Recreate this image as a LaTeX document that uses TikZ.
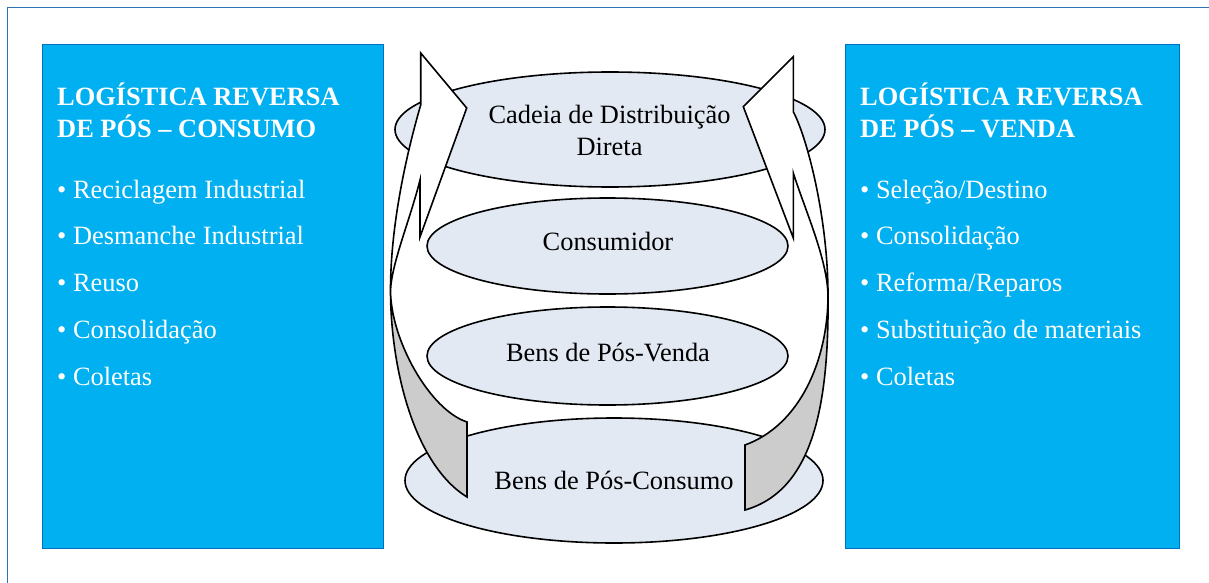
\documentclass[tikz,border=0pt]{standalone}
\usepackage{fontspec}
\setmainfont{Liberation Serif}
\usetikzlibrary{shapes.geometric}
\definecolor{boxblue}{HTML}{00B0F0}
\definecolor{boxedge}{HTML}{0070C0}
\definecolor{framecol}{HTML}{2E74B5}
\definecolor{ovalfill}{HTML}{E2E9F3}
\definecolor{backgray}{HTML}{CCCCCC}
\begin{document}
\begin{tikzpicture}[x=1pt,y=-1pt,
  sidebox/.style={fill=boxblue, draw=boxedge, line width=0.8pt, inner sep=0pt, anchor=north west},
  oval/.style={ellipse, draw=black, line width=1.6pt, fill=ovalfill, inner sep=0pt},
  txt/.style={font=\fontsize{26.4}{31}\selectfont, inner sep=0pt, anchor=base},
  wtxt/.style={font=\fontsize{26.4}{31}\selectfont, text=white, inner sep=0pt, anchor=base west},
  ttl/.style={font=\fontsize{26.4}{31}\selectfont\bfseries, text=white, inner sep=0pt, anchor=base west},
  band/.style={draw=black, line width=1.6pt, line join=miter},
  frontface/.style={band, fill=white},
  backface/.style={band, fill=backgray}]
\useasboundingbox (0,0) rectangle (1209,583);
\fill[white] (0,0) rectangle (1209,583);
\draw[framecol, line width=1.1pt] (7.3,583) -- (7.3,7.3) -- (1209,7.3);

% side boxes
\node[sidebox, minimum width=341pt, minimum height=504pt] (lbox) at (41.5,44) {};
\node[sidebox, minimum width=334pt, minimum height=504pt] (rbox) at (844.5,44) {};

\node[ttl] (lt1) at (57,106) {LOGÍSTICA REVERSA};
\node[ttl] (lt2) at (57,137) {DE PÓS – CONSUMO};
\node[wtxt] (l1) at (57,198) {• Reciclagem Industrial};
\node[wtxt] (l2) at (57,244.8) {• Desmanche Industrial};
\node[wtxt] (l3) at (57,291.6) {• Reuso};
\node[wtxt] (l4) at (57,338.4) {• Consolidação};
\node[wtxt] (l5) at (57,385.2) {• Coletas};

\node[ttl] (rt1) at (860,106) {LOGÍSTICA REVERSA};
\node[ttl] (rt2) at (860,137) {DE PÓS – VENDA};
\node[wtxt] (r1) at (860,198) {• Seleção/Destino};
\node[wtxt] (r2) at (860,244.8) {• Consolidação};
\node[wtxt] (r3) at (860,291.6) {• Reforma/Reparos};
\node[wtxt] (r4) at (860,338.4) {• Substituição de materiais};
\node[wtxt] (r5) at (860,385.2) {• Coletas};

% ellipses
\node[oval, minimum width=430pt, minimum height=115pt] (cadeia) at (610,129.5) {};
\node[oval, minimum width=361pt, minimum height=96pt] (consum) at (607.5,246) {};
\node[oval, minimum width=361pt, minimum height=98pt] (posvenda) at (607.5,356) {};
\node[oval, minimum width=418pt, minimum height=125pt] (poscons) at (614,480.5) {};

\node[txt] (t1a) at (609.5,124) {Cadeia de Distribuição};
\node[txt] (t1b) at (609.5,155) {Direta};
\node[txt] (t2) at (608,250) {Consumidor};
\node[txt] (t3) at (608,361) {Bens de Pós-Venda};
\node[txt] (t4) at (614,489) {Bens de Pós-Consumo};

% left curved arrow
\draw[backface] (390.5,290) .. controls (390.5,370) and (415,465) .. (467,497)
  -- (467,422) .. controls (430,410) and (390.5,340) .. (390.5,290) -- cycle;
\draw[frontface] (420.7,53) -- (466.7,108) -- (420,237) -- (420,180)
  .. controls (410,220) and (392,262) .. (390.5,290)
  .. controls (390.5,220) and (409,145) .. (420.7,105) -- cycle;

% right curved arrow
\draw[backface] (828,295) .. controls (829,400) and (815,490) .. (745,510)
  -- (745,445) .. controls (800,425) and (828,360) .. (828,295) -- cycle;
\draw[frontface] (793.3,56.7) -- (743.3,106.7) -- (793.3,238) -- (793.3,173)
  .. controls (805,210) and (827,258) .. (828,295)
  .. controls (828,220) and (808,140) .. (793.3,111.7) -- cycle;
\end{tikzpicture}
\end{document}
